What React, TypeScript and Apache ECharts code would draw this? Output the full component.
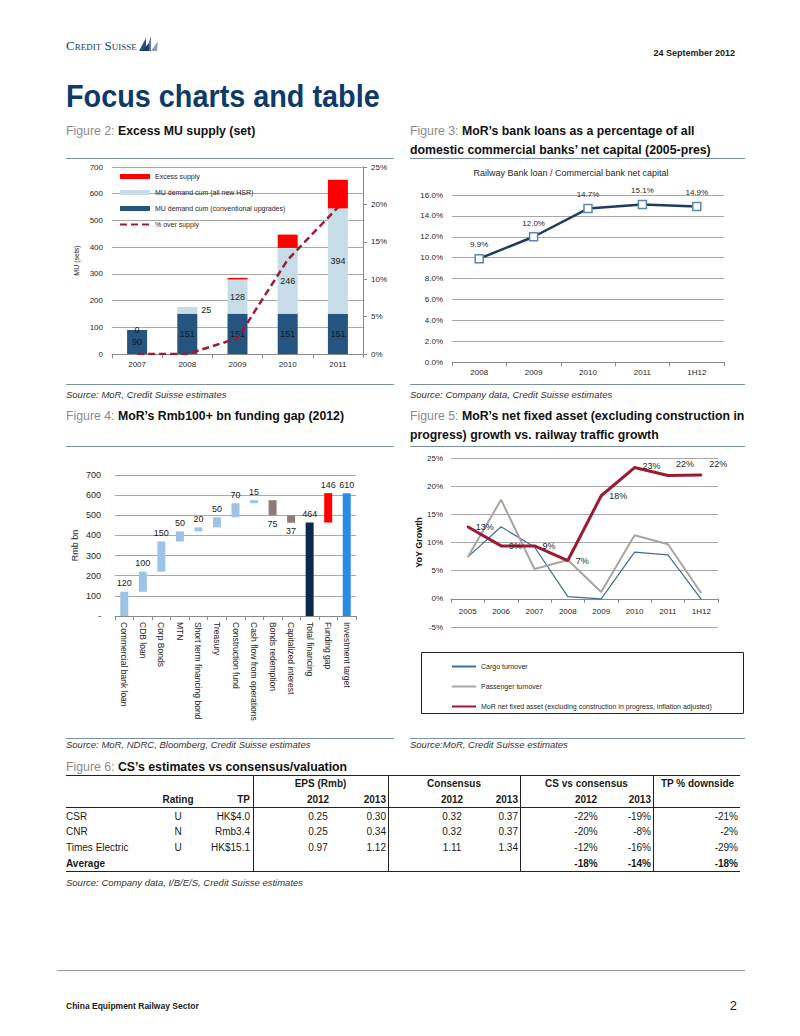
import React, { useEffect, useRef } from 'react';
import * as echarts from 'echarts';

const FONT = '"Liberation Sans", Arial, Helvetica, sans-serif';

// Figure 2
const supplyYears = ['2007', '2008', '2009', '2010', '2011'];
const convUpgrades = [90, 151, 151, 151, 151];
const hsrDemand = [0, 25, 128, 246, 394];
const excessSupply = [0, 0, 6, 50, 107];
const overSupplyPct = [0, 0, 2.1, 12.6, 19.6];

// Figure 3
const loanYears = ['2008', '2009', '2010', '2011', '1H12'];
const loanRatio = [9.9, 12.0, 14.7, 15.1, 14.9];

// Figure 4
const gapCats = ['Commercial bank loan', 'CDB loan', 'Corp Bonds', 'MTN', 'Short term financing bond', 'Treasury', 'Construction fund', 'Cash flow from operations', 'Bonds redemption', 'Capitalized interest', 'Total financing', 'Funding gap', 'Investment target'];
const gapValues = [120, 100, 150, 50, 20, 50, 70, 15, 75, 37, 464, 146, 610];
const gapKinds = ['in', 'in', 'in', 'in', 'in', 'in', 'in', 'in', 'out', 'out', 'total', 'gap', 'target'];

// Figure 5
const growthYears = ['2005', '2006', '2007', '2008', '2009', '2010', '2011', '1H12'];
const cargoGrowth = [7.4, 12.8, 9.2, 0.4, 0, 8.3, 7.8, -0.1];
const passengerGrowth = [7.4, 17.6, 5.3, 6.9, 1.2, 11.3, 9.7, 1.0];
const assetGrowth = [12.8, 9.4, 9.4, 6.8, 18.3, 23.3, 21.9, 22.0];

// Figure 6
const companies = ['CSR', 'CNR', 'Times Electric'];
const ratings = ['U', 'N', 'U'];
const targetPrices = ['HK$4.0', 'Rmb3.4', 'HK$15.1'];
const eps2012 = [0.25, 0.25, 0.97];
const eps2013 = [0.30, 0.34, 1.12];
const cons2012 = [0.32, 0.32, 1.11];
const cons2013 = [0.37, 0.37, 1.34];
const csVs2012 = [-22, -20, -12];
const csVs2013 = [-19, -8, -16];
const tpDownside = [-21, -2, -29];
const averages = [-18, -14, -18];

const kindColor: Record<string, string> = {
  in: '#9dc3e6',
  out: '#8c7c76',
  total: '#0d2a4c',
  gap: '#ff0000',
  target: '#2b8be6',
};

const G4 = { left: 451, top: 458, width: 267, height: 169 };
const G4_MIN = -5;
const G4_MAX = 25;

function buildOption() {
  const bases: number[] = [];
  let running = 0;
  let lastTotal = 0;
  gapKinds.forEach((k, i) => {
    const v = gapValues[i];
    if (k === 'in') { bases.push(running); running += v; }
    else if (k === 'out') { running -= v; bases.push(running); }
    else if (k === 'total') { bases.push(0); lastTotal = v; running = v; }
    else if (k === 'gap') { bases.push(lastTotal); running = lastTotal + v; }
    else { bases.push(0); }
  });

  const axisGray = '#8a8a8a';
  const gridGray = '#a8a8a8';
  const lbl = { fontSize: 8, color: '#262626', fontFamily: FONT };

  const catAxis = (gridIndex: number, data: string[], extra: any = {}) => ({
    type: 'category', gridIndex, data,
    axisLine: { show: true, lineStyle: { color: axisGray, width: 1 } },
    axisTick: { show: true, length: 4, interval: 0, lineStyle: { color: axisGray } },
    axisLabel: { ...lbl, margin: 6, interval: 0 },
    splitLine: { show: false },
    ...extra,
  });

  return {
    animation: false,
    textStyle: { fontFamily: FONT },
    grid: [
      { left: 112, top: 167, width: 251, height: 187 },
      { left: 452, top: 195, width: 272, height: 167 },
      { left: 115, top: 475, width: 241, height: 141 },
      { ...G4 },
    ],
    xAxis: [
      catAxis(0, supplyYears),
      catAxis(1, loanYears),
      catAxis(2, gapCats, { axisLabel: { ...lbl, fontSize: 8.5, rotate: -90, margin: 6, interval: 0 } }),
      catAxis(3, growthYears, {
        axisLine: { onZero: false, lineStyle: { color: axisGray } },
        offset: -(G4.height * (0 - G4_MIN)) / (G4_MAX - G4_MIN),
        axisLabel: { ...lbl, margin: 9, interval: 0 },
      }),
    ],
    yAxis: [
      {
        type: 'value', gridIndex: 0, min: 0, max: 700, interval: 100,
        axisLine: { show: false }, axisTick: { show: false },
        splitLine: { lineStyle: { color: gridGray } },
        axisLabel: { ...lbl, margin: 9 },
        name: 'MU (sets)', nameLocation: 'middle', nameGap: 32, nameRotate: 90,
        nameTextStyle: { fontSize: 7, color: '#262626' },
      },
      {
        type: 'value', gridIndex: 0, position: 'right', min: 0, max: 25, interval: 5,
        axisLine: { show: true, lineStyle: { color: axisGray } },
        axisTick: { show: true, length: 4, lineStyle: { color: axisGray } },
        splitLine: { show: false },
        axisLabel: { ...lbl, margin: 8, formatter: '{value}%' },
      },
      {
        type: 'value', gridIndex: 1, min: 0, max: 16, interval: 2,
        axisLine: { show: false }, axisTick: { show: false },
        splitLine: { lineStyle: { color: gridGray } },
        axisLabel: { ...lbl, margin: 9, formatter: (v: number) => v.toFixed(1) + '%' },
      },
      {
        type: 'value', gridIndex: 2, min: 0, max: 700, interval: 100,
        axisLine: { show: false }, axisTick: { show: false },
        splitLine: { lineStyle: { color: gridGray } },
        axisLabel: { ...lbl, fontSize: 9, margin: 14, formatter: (v: number) => (v === 0 ? '-' : String(v)) },
        name: 'Rmb bn', nameLocation: 'middle', nameGap: 36, nameRotate: 90,
        nameTextStyle: { fontSize: 9, color: '#262626' },
      },
      {
        type: 'value', gridIndex: 3, min: G4_MIN, max: G4_MAX, interval: 5,
        axisLine: { show: false }, axisTick: { show: false },
        splitLine: { lineStyle: { color: gridGray } },
        axisLabel: { ...lbl, margin: 8, formatter: '{value}%' },
        name: 'YoY Growth', nameLocation: 'middle', nameGap: 26, nameRotate: 90,
        nameTextStyle: { fontSize: 9, fontWeight: 'bold', color: '#1a1a1a' },
      },
    ],
    legend: [
      {
        orient: 'vertical', left: 114, top: 167, itemWidth: 30, itemHeight: 5, itemGap: 7,
        selectedMode: false,
        textStyle: { fontSize: 7, color: '#262626', lineHeight: 9 },
        data: [
          { name: 'Excess supply', icon: 'rect' },
          { name: 'MU demand cum (all new HSR)', icon: 'rect' },
          { name: 'MU demand cum (conventional upgrades)', icon: 'rect' },
          { name: '% over supply', itemStyle: { opacity: 0 } },
        ],
      },
      {
        orient: 'vertical', left: 446, top: 657, itemWidth: 24, itemHeight: 9, itemGap: 11,
        selectedMode: false,
        itemStyle: { opacity: 0 },
        textStyle: { fontSize: 7, color: '#262626', lineHeight: 9 },
        data: ['Cargo turnover', 'Passenger turnover', 'MoR net fixed asset (excluding construction in progress, inflation adjusted)'],
      },
    ],
    graphic: [
      {
        type: 'text', x: 571, y: 173,
        style: { text: 'Railway Bank loan / Commercial bank net capital', fontSize: 9, fill: '#262626', align: 'center', verticalAlign: 'middle', fontFamily: FONT },
      },
      {
        type: 'rect', shape: { x: 421.5, y: 652.5, width: 322, height: 61 },
        style: { fill: 'none', stroke: '#222', lineWidth: 1 },
      },
    ],
    series: [
      // Figure 2
      {
        name: 'MU demand cum (conventional upgrades)', type: 'bar', stack: 'mu', xAxisIndex: 0, yAxisIndex: 0,
        barWidth: 20, data: convUpgrades, itemStyle: { color: '#25547f' },
        label: { show: true, position: 'inside', fontSize: 9, color: '#0d1b2a' },
      },
      {
        name: 'MU demand cum (all new HSR)', type: 'bar', stack: 'mu', xAxisIndex: 0, yAxisIndex: 0,
        barWidth: 20, itemStyle: { color: '#c6dde7' },
        data: hsrDemand.map((v, i) => (i === 1 ? { value: v, label: { position: 'right', distance: 4 } } : v)),
        label: { show: true, position: 'inside', fontSize: 9, color: '#1a1a1a' },
      },
      {
        name: 'Excess supply', type: 'bar', stack: 'mu', xAxisIndex: 0, yAxisIndex: 0,
        barWidth: 20, data: excessSupply, itemStyle: { color: '#ff0000' },
      },
      {
        name: '% over supply', type: 'line', xAxisIndex: 0, yAxisIndex: 1,
        data: overSupplyPct, symbol: 'none', smooth: false,
        lineStyle: { color: '#9c1c34', width: 2.5, type: [7, 4] },
        itemStyle: { color: '#9c1c34' },
      },
      // Figure 3
      {
        name: 'Railway Bank loan / Commercial bank net capital', type: 'line', xAxisIndex: 1, yAxisIndex: 2,
        data: loanRatio, symbol: 'rect', symbolSize: 8,
        lineStyle: { color: '#1f3c5e', width: 2.5 },
        itemStyle: { color: '#ffffff', borderColor: '#5d87aa', borderWidth: 1.5 },
        label: { show: true, position: 'top', distance: 5, fontSize: 8, color: '#262626', formatter: (p: any) => p.value.toFixed(1) + '%' },
      },
      // Figure 4
      {
        name: 'base', type: 'bar', stack: 'wf', xAxisIndex: 2, yAxisIndex: 3, barWidth: 8,
        data: bases, itemStyle: { color: 'transparent' }, silent: true,
      },
      {
        name: 'Funding', type: 'bar', stack: 'wf', xAxisIndex: 2, yAxisIndex: 3, barWidth: 8,
        data: gapValues.map((v, i) => ({
          value: v,
          itemStyle: { color: kindColor[gapKinds[i]] },
          label: { position: gapKinds[i] === 'out' ? 'bottom' : 'top' },
        })),
        label: { show: true, fontSize: 9, color: '#1a1a1a', distance: 4 },
      },
      // Figure 5
      {
        name: 'Cargo turnover', type: 'line', xAxisIndex: 3, yAxisIndex: 4,
        data: cargoGrowth, symbol: 'none', lineStyle: { color: '#3d6f92', width: 1.2 }, itemStyle: { color: '#3d6f92' },
      },
      {
        name: 'Passenger turnover', type: 'line', xAxisIndex: 3, yAxisIndex: 4,
        data: passengerGrowth, symbol: 'none', lineStyle: { color: '#aaa49f', width: 2 }, itemStyle: { color: '#aaa49f' },
      },
      {
        name: 'MoR net fixed asset (excluding construction in progress, inflation adjusted)', type: 'line', xAxisIndex: 3, yAxisIndex: 4,
        data: assetGrowth.map((v, i) => (i >= 5 ? { value: v, label: { offset: [0, i === 5 ? -2 : -11] } } : v)),
        symbol: 'circle', symbolSize: 2, showSymbol: true,
        lineStyle: { color: '#9a1b33', width: 3 }, itemStyle: { color: '#9a1b33' },
        label: { show: true, position: 'right', distance: 7, fontSize: 9, color: '#262626', formatter: (p: any) => Math.round(p.value) + '%' },
      },
    ],
  };
}

type TProps = { x: number; y: number; size?: number; bold?: boolean; italic?: boolean; color?: string; align?: 'left' | 'right' | 'center'; children: any; sx?: number };
const T = ({ x, y, size = 10, bold = false, italic = false, color = '#1a1a1a', align = 'left', children, sx }: TProps) => {
  const lh = Math.round(size * 1.3);
  const style: any = {
    position: 'absolute', top: y - lh / 2, fontSize: size, lineHeight: lh + 'px',
    fontWeight: bold ? 'bold' : 'normal', fontStyle: italic ? 'italic' : 'normal',
    color, whiteSpace: 'nowrap', fontFamily: FONT,
  };
  const tf: string[] = [];
  if (align === 'left') style.left = x;
  else if (align === 'right') { style.left = x; tf.push('translateX(-100%)'); }
  else { style.left = x; tf.push('translateX(-50%)'); }
  if (sx) { tf.push(`scaleX(${sx})`); style.transformOrigin = align === 'left' ? 'left center' : align === 'right' ? 'right center' : 'center'; }
  if (tf.length) style.transform = tf.join(' ');
  return <div style={style}>{children}</div>;
};

const HLine = ({ x1, x2, y, color = '#7b8fa8', w = 1 }: any) => (
  <div style={{ position: 'absolute', left: x1, top: y, width: x2 - x1, height: w, background: color }} />
);
const VLine = ({ x, y1, y2, color = '#222' }: any) => (
  <div style={{ position: 'absolute', left: x, top: y1, width: 1, height: y2 - y1, background: color }} />
);

const Caption = ({ x, y, fig, lines }: { x: number; y: number; fig: string; lines: string[] }) => (
  <>
    {lines.map((l, i) => (
      <T key={i} x={x} y={y + i * 19} size={12.3} bold color="#111">
        {i === 0 ? <span style={{ color: '#8a8a8a', fontWeight: 'normal' }}>{fig} </span> : null}
        {l}
      </T>
    ))}
  </>
);

export default function App() {
  const ref = useRef<HTMLDivElement>(null);
  useEffect(() => {
    if (!ref.current) return;
    const chart = echarts.init(ref.current, null, { renderer: 'svg' });
    chart.setOption(buildOption() as any);
    return () => chart.dispose();
  }, []);

  const sep = [253, 388, 520, 653];
  const tL = 66, tR = 740;
  const rowsY = [816, 831, 847];
  const pct = (v: number) => v + '%';
  const src = 9.5;

  return (
    <div style={{ position: 'absolute', left: 0, top: 0, width: 800, height: 1036, background: '#fff', overflow: 'hidden', fontFamily: FONT }}>
      <div ref={ref} style={{ position: 'absolute', left: 0, top: 0, width: 800, height: 1036 }} />

      {/* header */}
      <div style={{ position: 'absolute', left: 66, top: 38, fontFamily: '"Liberation Serif", "Times New Roman", serif', fontVariant: 'small-caps', fontSize: 13, color: '#1c3d6c', letterSpacing: 0, lineHeight: '15px' }}>
        Credit Suisse
      </div>
      <svg style={{ position: 'absolute', left: 138, top: 35 }} width="22" height="18" viewBox="0 0 22 18">
        <polygon points="1,16 8,3 8,16" fill="#2c4f7c" />
        <polygon points="8,16 13,1 13,16" fill="#5a7699" />
        <polygon points="13,16 20,6 19,16" fill="#8aa0ba" />
        <polygon points="4,16 11,8 11,16" fill="#1c3d6c" />
      </svg>
      <T x={735} y={53} size={9} bold align="right">24 September 2012</T>
      <T x={66} y={96} size={32} bold color="#0e3a6a" sx={0.9}>Focus charts and table</T>

      {/* figure captions row 1 */}
      <Caption x={66} y={131} fig="Figure 2:" lines={['Excess MU supply (set)']} />
      <Caption x={410} y={131} fig="Figure 3:" lines={['MoR\u2019s bank loans as a percentage of all', 'domestic commercial banks\u2019 net capital (2005-pres)']} />
      <HLine x1={66} x2={394} y={158} />
      <HLine x1={410} x2={745} y={158} />

      <HLine x1={66} x2={394} y={384} />
      <HLine x1={410} x2={745} y={384} />
      <T x={66} y={395} size={src} italic color="#333">Source: MoR, Credit Suisse estimates</T>
      <T x={410} y={395} size={src} italic color="#333">Source: Company data, Credit Suisse estimates</T>

      <Caption x={66} y={416} fig="Figure 4:" lines={['MoR\u2019s Rmb100+ bn funding gap (2012)']} />
      <Caption x={410} y={416} fig="Figure 5:" lines={['MoR\u2019s net fixed asset (excluding construction in', 'progress) growth vs. railway traffic growth']} />
      <HLine x1={66} x2={394} y={446} />
      <HLine x1={410} x2={745} y={446} />

      <HLine x1={66} x2={394} y={738} />
      <HLine x1={410} x2={745} y={738} />
      <T x={66} y={745} size={src} italic color="#333">Source: MoR, NDRC, Bloomberg, Credit Suisse estimates</T>
      <T x={410} y={745} size={src} italic color="#333">Source:MoR, Credit Suisse estimates</T>

      {/* table */}
      <Caption x={66} y={767} fig="Figure 6:" lines={['CS\u2019s estimates vs consensus/valuation']} />
      <HLine x1={tL} x2={tR} y={775} color="#222" />
      <HLine x1={tL} x2={tR} y={807} color="#222" />
      <HLine x1={tL} x2={tR} y={871} color="#222" />
      {sep.map((x) => <VLine key={x} x={x} y1={775} y2={871} />)}

      <T x={(sep[0] + sep[1]) / 2} y={783} bold align="center">EPS (Rmb)</T>
      <T x={(sep[1] + sep[2]) / 2} y={783} bold align="center">Consensus</T>
      <T x={(sep[2] + sep[3]) / 2} y={783} bold align="center">CS vs consensus</T>
      <T x={(sep[3] + tR) / 2 + 1} y={783} bold align="center">TP % downside</T>

      <T x={178} y={799} bold align="center">Rating</T>
      <T x={250} y={799} bold align="right">TP</T>
      <T x={318} y={799} bold align="center">2012</T>
      <T x={386} y={799} bold align="right">2013</T>
      <T x={452} y={799} bold align="center">2012</T>
      <T x={518} y={799} bold align="right">2013</T>
      <T x={586} y={799} bold align="center">2012</T>
      <T x={651} y={799} bold align="right">2013</T>

      {companies.map((c, i) => (
        <React.Fragment key={c}>
          <T x={66} y={rowsY[i]}>{c}</T>
          <T x={178} y={rowsY[i]} align="center">{ratings[i]}</T>
          <T x={250} y={rowsY[i]} align="right">{targetPrices[i]}</T>
          <T x={318} y={rowsY[i]} align="center">{eps2012[i].toFixed(2)}</T>
          <T x={386} y={rowsY[i]} align="right">{eps2013[i].toFixed(2)}</T>
          <T x={452} y={rowsY[i]} align="center">{cons2012[i].toFixed(2)}</T>
          <T x={518} y={rowsY[i]} align="right">{cons2013[i].toFixed(2)}</T>
          <T x={586} y={rowsY[i]} align="center">{pct(csVs2012[i])}</T>
          <T x={651} y={rowsY[i]} align="right">{pct(csVs2013[i])}</T>
          <T x={738} y={rowsY[i]} align="right">{pct(tpDownside[i])}</T>
        </React.Fragment>
      ))}
      <T x={66} y={863} bold>Average</T>
      <T x={586} y={863} bold align="center">{pct(averages[0])}</T>
      <T x={651} y={863} bold align="right">{pct(averages[1])}</T>
      <T x={738} y={863} bold align="right">{pct(averages[2])}</T>

      <T x={66} y={883} size={src} italic color="#333">Source: Company data, I/B/E/S, Credit Suisse estimates</T>

      {/* footer */}
      <HLine x1={57} x2={745} y={970} color="#9a9a9a" />
      <T x={66} y={1006} size={8.5} bold>China Equipment Railway Sector</T>
      <T x={737} y={1005} size={13} align="right">2</T>
    </div>
  );
}
